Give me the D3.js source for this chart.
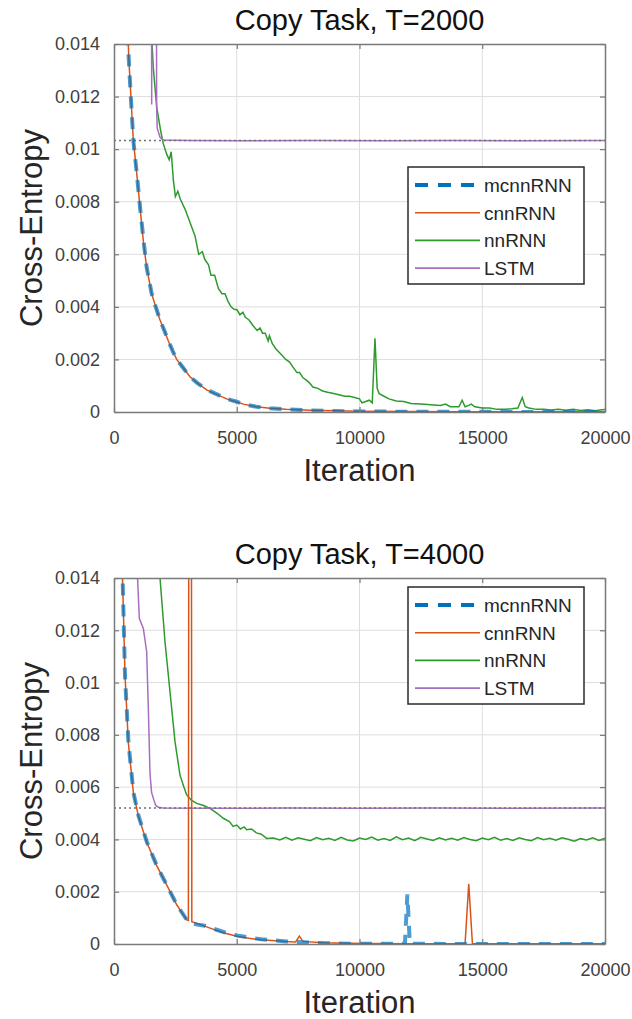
<!DOCTYPE html>
<html>
<head>
<meta charset="utf-8">
<script src="https://cdn.jsdelivr.net/npm/d3@7"></script>
<style>
  body { margin: 0; background: #fff; }
  svg { display: block; font-family: "Liberation Sans", Arial, sans-serif; }
</style>
</head>
<body>
<script>
(() => {
    const width = 632;
    const height = 1019;

    const seriesNames = ["mcnnRNN", "cnnRNN", "nnRNN", "LSTM"];
    const seriesColors = ["#0072bd", "#d95319", "#2e9a2e", "#a86ec0"];
    const xTicks = [0, 5000, 10000, 15000, 20000];
    const xTickLabels = ["0", "5000", "10000", "15000", "20000"];
    const yTicks = [0, 0.002, 0.004, 0.006, 0.008, 0.01, 0.012, 0.014];
    const yTickLabels = ["0", "0.002", "0.004", "0.006", "0.008", "0.01", "0.012", "0.014"];

    // ---- Copy Task, T=2000 ----
    const t2000_mcnnRNN = [[480,0.0168],[580,0.0138],[690,0.0119],[790,0.0103],[925,0.0091],[1060,0.0078],[1195,0.0066],[1330,0.0055],[1535,0.0045],[1700,0.0040],[1875,0.0035],[2050,0.0031],[2215,0.0027],[2400,0.0023],[2555,0.0020],[2800,0.0017],[3100,0.00133],[3400,0.0011],[3780,0.00085],[4200,0.00067],[4600,0.0005],[5000,0.00039],[5270,0.0003],[5800,0.0002],[6350,0.00014],[7000,0.0001],[8000,0.00006],[9000,0.00004],[10000,0.00002],[12000,0.00001],[14000,0.00001],[17000,0],[20000,0]];
    const t2000_cnnRNN = [[500,0.0165],[600,0.0135],[700,0.0118],[787,0.01035],[924,0.0091],[1059,0.0078],[1195,0.0065],[1330,0.0055],[1535,0.0045],[1700,0.0040],[1874,0.0035],[2050,0.0031],[2213,0.0027],[2400,0.0023],[2553,0.0020],[2800,0.0017],[3096,0.00134],[3400,0.0011],[3775,0.00084],[4200,0.00066],[4590,0.0005],[5000,0.00038],[5267,0.0003],[5800,0.0002],[6354,0.00014],[7000,0.0001],[8000,0.00007],[9000,0.00005],[10000,0.00003],[12000,0.00002],[14000,0.00001],[17000,0.00001],[20000,0.00001]];
    const t2000_nnRNN = [[1500,0.017],[1550,0.014],[1600,0.0131],[1740,0.0116],[1900,0.0107],[2010,0.0102],[2150,0.0098],[2250,0.0096],[2330,0.0099],[2420,0.0088],[2500,0.0082],[2600,0.0084],[2700,0.0081],[2900,0.0077],[3100,0.0072],[3300,0.0067],[3450,0.0060],[3600,0.0061],[3700,0.0058],[3850,0.0056],[3950,0.0052],[4100,0.0052],[4250,0.0047],[4400,0.0045],[4520,0.0045],[4650,0.0042],[4770,0.0040],[4900,0.0039],[5000,0.0039],[5130,0.0037],[5250,0.0038],[5350,0.0036],[5500,0.0035],[5650,0.0033],[5830,0.0031],[5950,0.0032],[6050,0.0030],[6160,0.0030],[6280,0.0027],[6330,0.0029],[6450,0.0026],[6600,0.0024],[6800,0.0022],[7000,0.0020],[7150,0.0019],[7300,0.0017],[7450,0.0015],[7560,0.0015],[7700,0.0013],[7850,0.0012],[7970,0.0011],[8100,0.00095],[8300,0.0009],[8500,0.0008],[8700,0.00075],[8950,0.0007],[9200,0.00065],[9400,0.0006],[9600,0.0006],[9800,0.00055],[10000,0.0005],[10100,0.00035],[10250,0.0004],[10400,0.00045],[10520,0.00035],[10630,0.0028],[10720,0.0009],[10800,0.0007],[11000,0.0006],[11200,0.0005],[11500,0.00042],[11800,0.0004],[12100,0.00032],[12500,0.0003],[12900,0.00028],[13300,0.00025],[13500,0.0003],[13700,0.0002],[13900,0.0002],[14050,0.0002],[14180,0.00045],[14300,0.0002],[14450,0.00025],[14550,0.0003],[14700,0.0002],[15000,0.00015],[15300,0.00015],[15600,0.0001],[15900,0.0001],[16200,0.00012],[16450,0.00015],[16630,0.00055],[16750,0.0002],[16900,0.00015],[17200,0.0001],[17500,0.0001],[17800,0.00008],[18100,0.0001],[18400,0.00007],[18700,0.0001],[19000,0.00006],[19300,0.00009],[19600,0.00005],[19800,0.00008],[20000,0.0001]];
    const t2000_LSTM = [[1520,0.02],[1535,0.0117],[1550,0.02],[1720,0.02],[1738,0.0115],[1760,0.0108],[1874,0.01045],[2000,0.01035],[3000,0.01033],[5000,0.01032],[8000,0.01033],[11000,0.01032],[14000,0.01033],[17000,0.01032],[20000,0.01033]];
    const t2000_baseline = 0.01033;

    // ---- Copy Task, T=4000 ----
    const t4000_mcnnRNN = [[300,0.0162],[345,0.0142],[385,0.0127],[450,0.0102],[590,0.0077],[790,0.0058],[1000,0.0049],[1340,0.0039],[1740,0.003],[2150,0.00225],[2560,0.0015],[2960,0.00093],[3100,0.0008],[3400,0.00074],[3700,0.0007],[4000,0.0006],[4500,0.00045],[5000,0.00033],[5500,0.00025],[6000,0.00018],[7000,0.0001],[8000,0.00005],[9000,0.00002],[10000,0.00001],[11850,0.00001],[11950,0.0019],[12050,0.00001],[14000,0],[20000,0]];
    const t4000_cnnRNN = [[300,0.016],[340,0.0142],[380,0.01284],[448,0.0103],[584,0.0077],[788,0.0058],[991,0.0049],[1331,0.0039],[1738,0.003],[2146,0.00226],[2554,0.0015],[2961,0.00092],[3030,0.0009],[3060,0.03],[3140,0.03],[3170,0.00085],[3500,0.00075],[4000,0.00058],[4500,0.00042],[5000,0.0003],[5500,0.00022],[6000,0.00016],[7000,0.0001],[7400,0.00008],[7550,0.0003],[7700,0.0001],[8500,0.00005],[9500,0.00003],[10500,0.00002],[12000,0.00001],[14300,0.00001],[14450,0.0023],[14600,0.00001],[16000,0.00001],[20000,0.00001]];
    const t4000_nnRNN = [[1800,0.016],[1874,0.014],[2077,0.01156],[2281,0.00965],[2485,0.00774],[2688,0.00646],[2850,0.006],[2961,0.0057],[3150,0.0055],[3368,0.00538],[3650,0.0053],[3910,0.00519],[4200,0.005],[4453,0.00481],[4700,0.00468],[4850,0.0045],[5000,0.00455],[5150,0.0044],[5300,0.00448],[5405,0.00437],[5600,0.0044],[5800,0.00425],[6000,0.0042],[6220,0.00404],
        [6500,0.00405],[6750,0.00398],[7000,0.00408],[7250,0.00397],[7500,0.00406],[7750,0.00401],[8000,0.00395],[8250,0.00407],[8500,0.00399],[8750,0.00404],[9000,0.00396],[9250,0.00408],[9500,0.00398],[9750,0.00394],[10000,0.00405],[10250,0.004],[10500,0.00409],[10750,0.00397],[11000,0.00403],[11250,0.00396],[11500,0.0041],[11750,0.00399],[12000,0.00405],[12250,0.00395],[12500,0.00408],[12750,0.00402],[13000,0.00396],[13250,0.00406],[13500,0.00398],[13750,0.00404],[14000,0.00397],[14250,0.00407],[14500,0.004],[14750,0.00395],[15000,0.00405],[15250,0.00399],[15500,0.00408],[15750,0.00397],[16000,0.00403],[16250,0.00396],[16500,0.00406],[16750,0.004],[17000,0.00395],[17250,0.00407],[17500,0.00399],[17750,0.00404],[18000,0.00397],[18250,0.00406],[18500,0.00401],[18750,0.00393],[19000,0.00403],[19250,0.00398],[19500,0.00406],[19750,0.00396],[20000,0.00405]];
    const t4000_LSTM = [[900,0.018],[960,0.014],[1031,0.01246],[1195,0.01207],[1331,0.01118],[1399,0.009],[1467,0.0065],[1530,0.0058],[1602,0.00557],[1700,0.0053],[1806,0.00523],[2000,0.0052],[4000,0.00519],[7000,0.0052],[10000,0.00519],[13000,0.0052],[16000,0.00519],[20000,0.0052]];
    const t4000_baseline = 0.0052;

    const panels = [
        {id: "t2000", title: "Copy Task, T=2000", top: 44, h: 368, legendY: 167,
         series: [t2000_mcnnRNN, t2000_cnnRNN, t2000_nnRNN, t2000_LSTM], baseline: t2000_baseline},
        {id: "t4000", title: "Copy Task, T=4000", top: 578, h: 366, legendY: 587,
         series: [t4000_mcnnRNN, t4000_cnnRNN, t4000_nnRNN, t4000_LSTM], baseline: t4000_baseline}
    ];

    const left = 114, plotW = 491;

    const svg = d3.create("svg")
        .attr("width", width)
        .attr("height", height)
        .attr("viewBox", [0, 0, width, height]);

    svg.append("rect").attr("width", width).attr("height", height).attr("fill", "#fff");

    const drawPanel = (p) => {
        const x = d3.scaleLinear().domain([0, 20000]).range([left, left + plotW]);
        const y = d3.scaleLinear().domain([0, 0.014]).range([p.top + p.h, p.top]);
        const g = svg.append("g");

        // grid
        g.append("g").selectAll("line").data(xTicks.slice(1, -1)).join("line")
            .attr("x1", d => x(d)).attr("x2", d => x(d))
            .attr("y1", y(0)).attr("y2", y(0.014))
            .attr("stroke", "#dedede").attr("stroke-width", 1);
        g.append("g").selectAll("line").data(yTicks.slice(1, -1)).join("line")
            .attr("x1", x(0)).attr("x2", x(20000))
            .attr("y1", d => y(d)).attr("y2", d => y(d))
            .attr("stroke", "#dedede").attr("stroke-width", 1);

        // clip the curves to the axes box
        svg.append("clipPath").attr("id", "clip-" + p.id)
            .append("rect")
            .attr("x", x(0)).attr("y", y(0.014))
            .attr("width", plotW).attr("height", p.h);

        const line = d3.line().x(d => x(d[0])).y(d => y(d[1]));
        const plot = g.append("g").attr("clip-path", `url(#clip-${p.id})`);

        // nnRNN, LSTM, cnnRNN, then mcnnRNN dashed on top
        plot.append("path").datum(p.series[2])
            .attr("fill", "none").attr("stroke", seriesColors[2]).attr("stroke-width", 1.5)
            .attr("d", line);
        plot.append("path").datum(p.series[3])
            .attr("fill", "none").attr("stroke", seriesColors[3]).attr("stroke-width", 1.5)
            .attr("d", line);
        plot.append("line")
            .attr("x1", x(0)).attr("x2", x(20000))
            .attr("y1", y(p.baseline)).attr("y2", y(p.baseline))
            .attr("stroke", "#707070").attr("stroke-width", 1.5)
            .attr("stroke-dasharray", "2,3");
        plot.append("path").datum(p.series[1])
            .attr("fill", "none").attr("stroke", seriesColors[1]).attr("stroke-width", 1.5)
            .attr("d", line);
        plot.append("path").datum(p.series[0])
            .attr("fill", "none").attr("stroke", seriesColors[0]).attr("stroke-width", 4)
            .attr("stroke-opacity", 0.7)
            .attr("stroke-dasharray", "12,9")
            .attr("d", line);

        // axes, ticks inward on all four sides
        const styleAxis = sel => {
            sel.select(".domain").attr("stroke", "#7a7a7a").attr("stroke-width", 1.5);
            sel.selectAll(".tick line").attr("stroke", "#7a7a7a").attr("stroke-width", 1.2);
            sel.selectAll(".tick text").attr("fill", "#404040").attr("font-size", 18)
                .attr("font-family", "'Liberation Sans', Arial, sans-serif");
        };

        g.append("g")
            .attr("transform", `translate(0,${y(0)})`)
            .call(d3.axisBottom(x).tickValues(xTicks).tickFormat((d, i) => xTickLabels[i])
                .tickSizeInner(-5).tickSizeOuter(0).tickPadding(19))
            .call(styleAxis);
        g.append("g")
            .attr("transform", `translate(0,${y(0.014)})`)
            .call(d3.axisTop(x).tickValues(xTicks).tickFormat("")
                .tickSizeInner(-5).tickSizeOuter(0))
            .call(styleAxis);
        g.append("g")
            .attr("transform", `translate(${x(0)},0)`)
            .call(d3.axisLeft(y).tickValues(yTicks).tickFormat((d, i) => yTickLabels[i])
                .tickSizeInner(-5).tickSizeOuter(0).tickPadding(14))
            .call(styleAxis);
        g.append("g")
            .attr("transform", `translate(${x(20000)},0)`)
            .call(d3.axisRight(y).tickValues(yTicks).tickFormat("")
                .tickSizeInner(-5).tickSizeOuter(0))
            .call(styleAxis);

        // title and labels
        g.append("text")
            .attr("x", left + plotW / 2).attr("y", p.top - 14)
            .attr("text-anchor", "middle").attr("font-size", 29).attr("fill", "#111")
            .text(p.title);
        g.append("text")
            .attr("x", left + plotW / 2).attr("y", p.top + p.h + 69)
            .attr("text-anchor", "middle").attr("font-size", 31).attr("fill", "#262626")
            .text("Iteration");
        g.append("text")
            .attr("transform", `translate(42,${p.top + p.h / 2}) rotate(-90)`)
            .attr("text-anchor", "middle").attr("font-size", 31).attr("fill", "#262626")
            .text("Cross-Entropy");

        // legend
        const lg = g.append("g").attr("transform", `translate(408,${p.legendY})`);
        lg.append("rect")
            .attr("width", 176).attr("height", 117)
            .attr("fill", "#fff").attr("stroke", "#2a2a2a").attr("stroke-width", 1.5);
        const rows = lg.selectAll("g.row").data(seriesNames).join("g")
            .attr("class", "row")
            .attr("transform", (d, i) => `translate(0,${18 + i * 27.7})`);
        rows.append("line")
            .attr("x1", 7).attr("x2", 72)
            .attr("stroke", (d, i) => seriesColors[i])
            .attr("stroke-width", (d, i) => i === 0 ? 4 : 1.6)
            .attr("stroke-dasharray", (d, i) => i === 0 ? "13,10" : null);
        rows.append("text")
            .attr("x", 76).attr("dy", "0.36em")
            .attr("font-size", 19).attr("fill", "#262626")
            .text(d => d);
    };

    panels.forEach(drawPanel);

    d3.select("body").append(() => svg.node());
})();
</script>
</body>
</html>
